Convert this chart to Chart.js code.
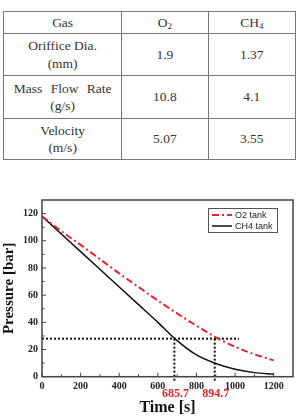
<!DOCTYPE html>
<html>
<head>
<meta charset="utf-8">
<script src="https://cdn.jsdelivr.net/npm/chart.js@4.4.0/dist/chart.umd.min.js"></script>
<style>
html, body { margin: 0; padding: 0; background: #fff; width: 296px; height: 419px; overflow: hidden; }
table { position: absolute; left: 3px; top: 11px; border-collapse: collapse; table-layout: fixed;
  font-family: "Liberation Serif", serif; font-size: 13.5px; color: #333; }
td { border: 1px solid #777; text-align: center; padding: 0; line-height: 17.5px; }
sub { font-size: 9px; vertical-align: -2px; line-height: 0; }
#wrap { position: absolute; left: 0; top: 190px; width: 296px; height: 229px; }
</style>
</head>
<body>
<table>
  <colgroup><col style="width:119px"><col style="width:87px"><col style="width:88px"></colgroup>
  <tr style="height:22px"><td>Gas</td><td>O<sub>2</sub></td><td>CH<sub>4</sub></td></tr>
  <tr style="height:42px"><td>Oriffice Dia.<br>(mm)</td><td>1.9</td><td>1.37</td></tr>
  <tr style="height:43px"><td><span style="word-spacing:5px">Mass Flow Rate</span><br>(g/s)</td><td>10.8</td><td>4.1</td></tr>
  <tr style="height:41px"><td>Velocity<br>(m/s)</td><td>5.07</td><td>3.55</td></tr>
</table>
<div id="wrap"><canvas id="chart" width="296" height="229"></canvas></div>
<script>
const times = [0, 100, 200, 300, 400, 500, 600, 700, 800, 900, 1000, 1100, 1200]
const o2 = [118, 107, 97, 86.5, 76, 66, 56, 46.5, 37.5, 29, 22, 16.5, 12]
const ch4 = [118, 105, 92, 79, 66, 53, 40, 26.5, 16, 9.7, 5.5, 3, 1.8]
const crossTimes = [685.7, 894.7]
const crossPressure = 28
const lineEnd = 1020
const xTicks = [0, 200, 400, 600, 800, 1000, 1200]
const xMinor = [100, 300, 500, 700, 900, 1100]
const yTicks = [0, 20, 40, 60, 80, 100, 120]
const yMinor = [10, 30, 50, 70, 90, 110]

const serif = '"Liberation Serif", "Times New Roman", serif'

const dotted = { borderColor: '#111', borderWidth: 2, borderDash: [2, 2], pointRadius: 0, clip: false, isGuide: true }

const datasets = [
  { label: 'O2 tank', data: times.map((t, i) => ({ x: t, y: o2[i] })),
    borderColor: '#e3262b', borderWidth: 2, borderDash: [7, 3, 2, 3], pointRadius: 0, cubicInterpolationMode: 'monotone' },
  { label: 'CH4 tank', data: times.map((t, i) => ({ x: t, y: ch4[i] })),
    borderColor: '#111', borderWidth: 1.5, pointRadius: 0, cubicInterpolationMode: 'monotone' },
  Object.assign({ label: 'h', data: [{ x: 0, y: crossPressure }, { x: lineEnd, y: crossPressure }] }, dotted)
]
crossTimes.forEach(t => {
  datasets.push(Object.assign({ label: 'v', data: [{ x: t, y: crossPressure }, { x: t, y: -4 }] }, dotted))
})

const frame = {
  id: 'frame',
  afterDatasetsDraw(chart) {
    const { ctx, chartArea: a, scales: { x, y } } = chart
    ctx.save()
    ctx.strokeStyle = '#444'
    ctx.lineWidth = 1.5
    ctx.strokeRect(a.left, a.top, a.right - a.left, a.bottom - a.top)
    ctx.lineWidth = 1
    ctx.beginPath()
    const tick = (vals, len) => {
      vals.forEach(v => { const px = x.getPixelForValue(v); ctx.moveTo(px, a.bottom); ctx.lineTo(px, a.bottom - len) })
    }
    const ytick = (vals, len) => {
      vals.forEach(v => { const py = y.getPixelForValue(v); ctx.moveTo(a.left, py); ctx.lineTo(a.left + len, py) })
    }
    tick(xTicks, 4); tick(xMinor, 2.5); ytick(yTicks, 4); ytick(yMinor, 2.5)
    ctx.stroke()
    // red time labels
    ctx.fillStyle = '#e3262b'
    ctx.font = 'bold 12px ' + serif
    ctx.textAlign = 'center'
    ctx.textBaseline = 'middle'
    crossTimes.forEach(t => ctx.fillText(t.toFixed(1), x.getPixelForValue(t) + 1, 204))
    ctx.restore()
  },
  afterDraw(chart) {
    const { ctx, chartArea: a } = chart
    const bx = a.right - 85, by = a.top + 8, bw = 69, bh = 24
    ctx.save()
    ctx.fillStyle = '#fff'
    ctx.fillRect(bx, by, bw, bh)
    ctx.strokeStyle = '#555'
    ctx.lineWidth = 1
    ctx.strokeRect(bx + 0.5, by + 0.5, bw, bh)
    ctx.font = '9px "Liberation Sans", Arial, sans-serif'
    ctx.textBaseline = 'middle'
    chart.data.datasets.filter(d => !d.isGuide).forEach((d, i) => {
      const ly = by + 7 + i * 11
      ctx.strokeStyle = d.borderColor
      ctx.lineWidth = d.borderWidth
      ctx.setLineDash(d.borderDash || [])
      ctx.beginPath(); ctx.moveTo(bx + 4, ly); ctx.lineTo(bx + 24, ly); ctx.stroke()
      ctx.setLineDash([])
      ctx.fillStyle = '#222'
      ctx.fillText(d.label, bx + 27, ly + 0.5)
    })
    ctx.restore()
  }
}

new Chart(document.getElementById('chart'), {
  type: 'line',
  data: { datasets },
  options: {
    responsive: false,
    animation: false,
    layout: { padding: { top: 7, right: 3, left: 0, bottom: 0 } },
    plugins: { legend: { display: false }, tooltip: { enabled: false } },
    scales: {
      x: {
        type: 'linear', min: 0, max: 1300,
        afterBuildTicks: s => { s.ticks = xTicks.map(v => ({ value: v })) },
        afterFit: s => { s.height = 42.3 },
        grid: { display: false, drawTicks: false },
        border: { display: false },
        ticks: { color: '#222', padding: 4, maxRotation: 0, callback: v => String(v),
          font: { family: serif, size: 10, weight: 'bold' } },
        title: { display: true, text: 'Time [s]', color: '#111', padding: { top: 0, bottom: 2 },
          font: { family: serif, size: 16, weight: 'bold' } }
      },
      y: {
        min: 0, max: 130,
        afterBuildTicks: s => { s.ticks = yTicks.map(v => ({ value: v })) },
        afterFit: s => { s.width = 42 },
        grid: { display: false, drawTicks: false },
        border: { display: false },
        ticks: { color: '#222', padding: 4, callback: v => String(v),
          font: { family: serif, size: 10, weight: 'bold' } },
        title: { display: true, text: 'Pressure [bar]', color: '#111', padding: { top: 0, bottom: 0 },
          font: { family: serif, size: 15, weight: 'bold' } }
      }
    }
  },
  plugins: [frame]
})
</script>
</body>
</html>
